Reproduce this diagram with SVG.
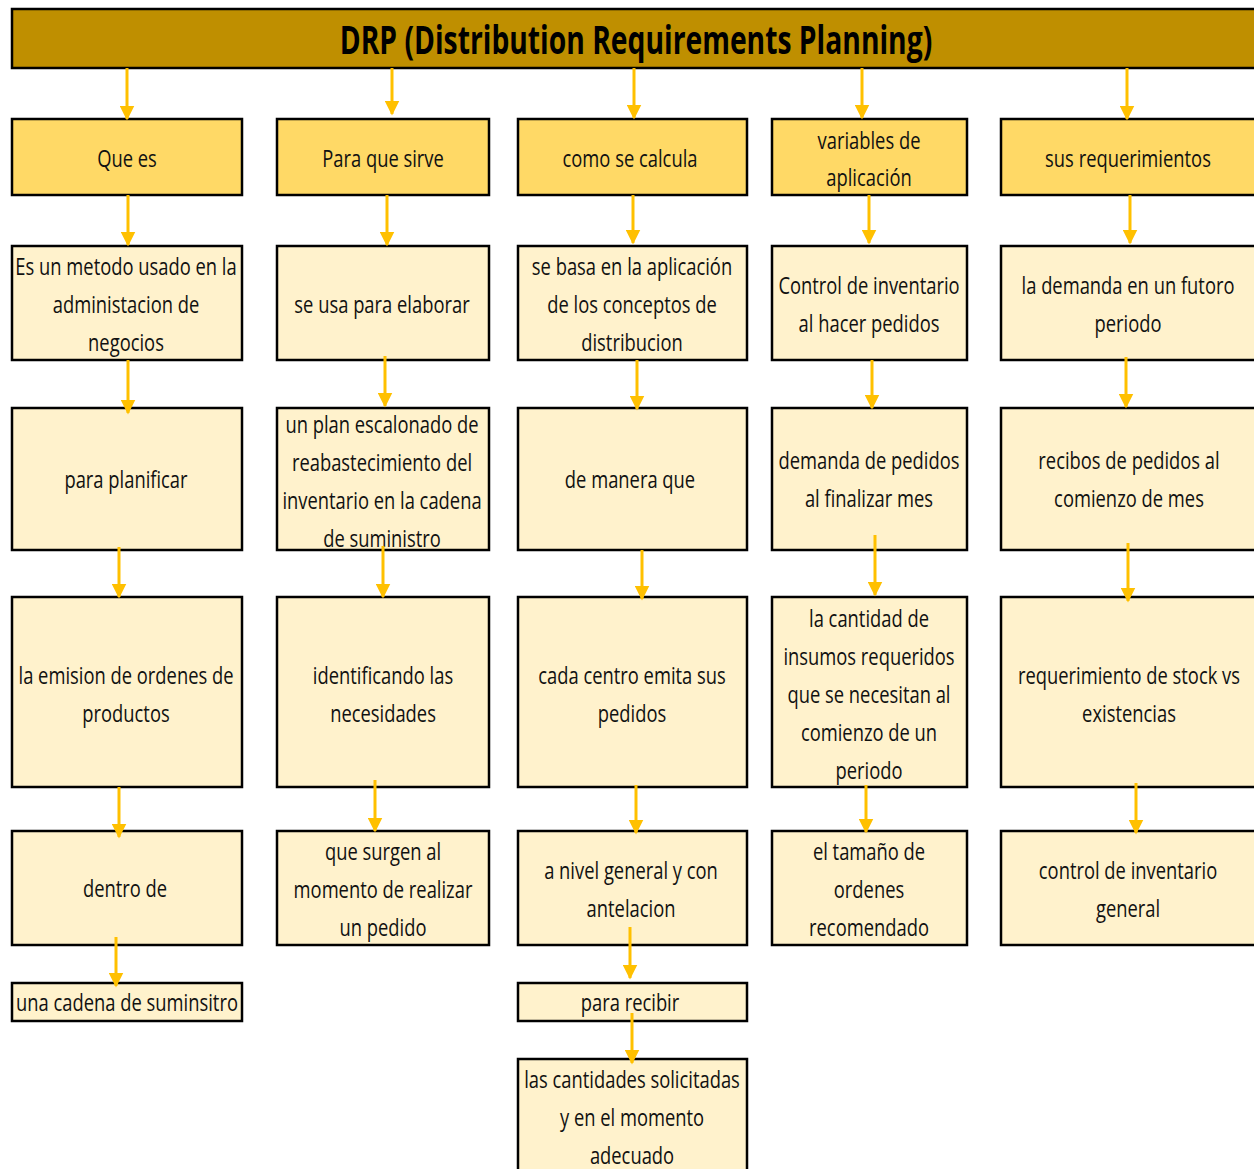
<svg xmlns="http://www.w3.org/2000/svg" width="1254" height="1169" viewBox="0 0 1254 1169">
  <defs>
    <style>
      .title { fill: #BF8F00; stroke: #000; stroke-width: 2.5; }
      .head { fill: #FFD966; stroke: #000; stroke-width: 2.5; }
      .box { fill: #FFF2CC; stroke: #000; stroke-width: 2.5; }
      .t { font-family: "Open Sans", "Liberation Sans", sans-serif; font-size: 24px; fill: #111; text-anchor: middle; }
      .tt { font-family: "Open Sans", "Liberation Sans", sans-serif; font-size: 40px; font-weight: bold; fill: #000; text-anchor: middle; }
      .arr { stroke: #FFC000; stroke-width: 3; fill: none; marker-end: url(#head); }
    </style>
    <marker id="head" viewBox="0 0 10 10" refX="9" refY="5" markerWidth="5" markerHeight="5" markerUnits="strokeWidth" orient="auto">
      <path d="M0,0 L10,5 L0,10 z" fill="#FFC000"/>
    </marker>
    <filter id="shadow" x="-2" y="-0.2" width="5" height="1.4">
      <feGaussianBlur stdDeviation="2"/>
    </filter>
  </defs>
  <rect width="1254" height="1169" fill="#fff"/>

  <!-- title bar -->
  <g id="title">
    <rect class="title" x="12" y="9" width="1250" height="59"/>
    <g transform="translate(636,0) scale(0.707,1)"><text class="tt" x="0" y="54">DRP (Distribution Requirements Planning)</text></g>
  </g>

  <!-- column 1 -->
  <g id="que-es">
    <rect class="head" x="12" y="119" width="230" height="76"/>
    <g transform="translate(127,0) scale(0.765,1)"><text class="t" x="0" y="167">Que es</text></g>
  </g>
  <g id="es-un-metodo">
    <rect class="box" x="12" y="246" width="230" height="114"/>
    <g transform="translate(126,0) scale(0.765,1)">
      <text class="t" x="0" y="275">Es un metodo usado en la</text>
      <text class="t" x="0" y="313">administacion de</text>
      <text class="t" x="0" y="351">negocios</text>
    </g>
  </g>
  <g id="para-planificar">
    <rect class="box" x="12" y="408" width="230" height="142"/>
    <g transform="translate(126,0) scale(0.765,1)"><text class="t" x="0" y="488">para planificar</text></g>
  </g>
  <g id="emision">
    <rect class="box" x="12" y="597" width="230" height="190"/>
    <g transform="translate(126,0) scale(0.765,1)">
      <text class="t" x="0" y="684">la emision de ordenes de</text>
      <text class="t" x="0" y="722">productos</text>
    </g>
  </g>
  <g id="dentro-de">
    <rect class="box" x="12" y="831" width="230" height="114"/>
    <g transform="translate(125,0) scale(0.765,1)"><text class="t" x="0" y="897">dentro de</text></g>
  </g>
  <g id="cadena">
    <rect class="box" x="12" y="983" width="230" height="38"/>
    <g transform="translate(127,0) scale(0.765,1)"><text class="t" x="0" y="1011">una cadena de suminsitro</text></g>
  </g>

  <!-- column 2 -->
  <g id="para-que-sirve">
    <rect class="head" x="277" y="119" width="212" height="76"/>
    <g transform="translate(383,0) scale(0.765,1)"><text class="t" x="0" y="167">Para que sirve</text></g>
  </g>
  <g id="se-usa">
    <rect class="box" x="277" y="246" width="212" height="114"/>
    <g transform="translate(382,0) scale(0.765,1)"><text class="t" x="0" y="313">se usa para elaborar</text></g>
  </g>
  <g id="plan-escalonado">
    <rect class="box" x="277" y="408" width="212" height="142"/>
    <g transform="translate(382,0) scale(0.765,1)">
      <text class="t" x="0" y="433">un plan escalonado de</text>
      <text class="t" x="0" y="471">reabastecimiento del</text>
      <text class="t" x="0" y="509">inventario en la cadena</text>
      <text class="t" x="0" y="547">de suministro</text>
    </g>
  </g>
  <g id="identificando">
    <rect class="box" x="277" y="597" width="212" height="190"/>
    <g transform="translate(383,0) scale(0.765,1)">
      <text class="t" x="0" y="684">identificando las</text>
      <text class="t" x="0" y="722">necesidades</text>
    </g>
  </g>
  <g id="que-surgen">
    <rect class="box" x="277" y="831" width="212" height="114"/>
    <g transform="translate(383,0) scale(0.765,1)">
      <text class="t" x="0" y="860">que surgen al</text>
      <text class="t" x="0" y="898">momento de realizar</text>
      <text class="t" x="0" y="936">un pedido</text>
    </g>
  </g>

  <!-- column 3 -->
  <g id="como-se-calcula">
    <rect class="head" x="518" y="119" width="229" height="76"/>
    <g transform="translate(630,0) scale(0.765,1)"><text class="t" x="0" y="167">como se calcula</text></g>
  </g>
  <g id="se-basa">
    <rect class="box" x="518" y="246" width="229" height="114"/>
    <g transform="translate(632,0) scale(0.765,1)">
      <text class="t" x="0" y="275">se basa en la aplicación</text>
      <text class="t" x="0" y="313">de los conceptos de</text>
      <text class="t" x="0" y="351">distribucion</text>
    </g>
  </g>
  <g id="de-manera-que">
    <rect class="box" x="518" y="408" width="229" height="142"/>
    <g transform="translate(630,0) scale(0.765,1)"><text class="t" x="0" y="488">de manera que</text></g>
  </g>
  <g id="cada-centro">
    <rect class="box" x="518" y="597" width="229" height="190"/>
    <g transform="translate(632,0) scale(0.765,1)">
      <text class="t" x="0" y="684">cada centro emita sus</text>
      <text class="t" x="0" y="722">pedidos</text>
    </g>
  </g>
  <g id="nivel-general">
    <rect class="box" x="518" y="831" width="229" height="114"/>
    <g transform="translate(631,0) scale(0.765,1)">
      <text class="t" x="0" y="879">a nivel general y con</text>
      <text class="t" x="0" y="917">antelacion</text>
    </g>
  </g>
  <g id="para-recibir">
    <rect class="box" x="518" y="983" width="229" height="38"/>
    <g transform="translate(630,0) scale(0.765,1)"><text class="t" x="0" y="1011">para recibir</text></g>
  </g>
  <g id="cantidades">
    <rect class="box" x="518" y="1059" width="229" height="120"/>
    <g transform="translate(632,0) scale(0.765,1)">
      <text class="t" x="0" y="1088">las cantidades solicitadas</text>
      <text class="t" x="0" y="1126">y en el momento</text>
      <text class="t" x="0" y="1164">adecuado</text>
    </g>
  </g>

  <!-- column 4 -->
  <g id="variables">
    <rect class="head" x="772" y="119" width="195" height="76"/>
    <g transform="translate(869,0) scale(0.765,1)">
      <text class="t" x="0" y="149">variables de</text>
      <text class="t" x="0" y="186">aplicación</text>
    </g>
  </g>
  <g id="control-inventario">
    <rect class="box" x="772" y="246" width="195" height="114"/>
    <g transform="translate(869,0) scale(0.765,1)">
      <text class="t" x="0" y="294">Control de inventario</text>
      <text class="t" x="0" y="332">al hacer pedidos</text>
    </g>
  </g>
  <g id="demanda-pedidos">
    <rect class="box" x="772" y="408" width="195" height="142"/>
    <g transform="translate(869,0) scale(0.765,1)">
      <text class="t" x="0" y="469">demanda de pedidos</text>
      <text class="t" x="0" y="507">al finalizar mes</text>
    </g>
  </g>
  <g id="cantidad-insumos">
    <rect class="box" x="772" y="597" width="195" height="190"/>
    <g transform="translate(869,0) scale(0.765,1)">
      <text class="t" x="0" y="627">la cantidad de</text>
      <text class="t" x="0" y="665">insumos requeridos</text>
      <text class="t" x="0" y="703">que se necesitan al</text>
      <text class="t" x="0" y="741">comienzo de un</text>
      <text class="t" x="0" y="779">periodo</text>
    </g>
  </g>
  <g id="tamano-ordenes">
    <rect class="box" x="772" y="831" width="195" height="114"/>
    <g transform="translate(869,0) scale(0.765,1)">
      <text class="t" x="0" y="860">el tamaño de</text>
      <text class="t" x="0" y="898">ordenes</text>
      <text class="t" x="0" y="936">recomendado</text>
    </g>
  </g>

  <!-- column 5 -->
  <g id="requerimientos">
    <rect class="head" x="1001" y="119" width="260" height="76"/>
    <g transform="translate(1128,0) scale(0.765,1)"><text class="t" x="0" y="167">sus requerimientos</text></g>
  </g>
  <g id="demanda-futuro">
    <rect class="box" x="1001" y="246" width="260" height="114"/>
    <g transform="translate(1128,0) scale(0.765,1)">
      <text class="t" x="0" y="294">la demanda en un futoro</text>
      <text class="t" x="0" y="332">periodo</text>
    </g>
  </g>
  <g id="recibos">
    <rect class="box" x="1001" y="408" width="260" height="142"/>
    <g transform="translate(1129,0) scale(0.765,1)">
      <text class="t" x="0" y="469">recibos de pedidos al</text>
      <text class="t" x="0" y="507">comienzo de mes</text>
    </g>
  </g>
  <g id="stock-vs">
    <rect class="box" x="1001" y="597" width="260" height="190"/>
    <g transform="translate(1129,0) scale(0.765,1)">
      <text class="t" x="0" y="684">requerimiento de stock vs</text>
      <text class="t" x="0" y="722">existencias</text>
    </g>
  </g>
  <g id="control-general">
    <rect class="box" x="1001" y="831" width="260" height="114"/>
    <g transform="translate(1128,0) scale(0.765,1)">
      <text class="t" x="0" y="879">control de inventario</text>
      <text class="t" x="0" y="917">general</text>
    </g>
  </g>

  <!-- connectors -->
  <g id="connectors">
    <line x1="131" y1="70" x2="131" y2="120" stroke="#888" stroke-width="4" opacity="0.5" filter="url(#shadow)"/>
    <line class="arr" x1="127" y1="68" x2="127" y2="119"/>
    <line class="arr" x1="392" y1="68" x2="392" y2="114"/>
    <line class="arr" x1="634" y1="68" x2="634" y2="118"/>
    <line class="arr" x1="862" y1="68" x2="862" y2="118"/>
    <line class="arr" x1="1127" y1="68" x2="1127" y2="119"/>

    <line class="arr" x1="128" y1="195" x2="128" y2="245"/>
    <line class="arr" x1="387" y1="195" x2="387" y2="245"/>
    <line class="arr" x1="633" y1="195" x2="633" y2="243"/>
    <line class="arr" x1="869" y1="195" x2="869" y2="243"/>
    <line class="arr" x1="1130" y1="195" x2="1130" y2="243"/>

    <line class="arr" x1="128" y1="360" x2="128" y2="413"/>
    <line class="arr" x1="385" y1="356" x2="385" y2="406"/>
    <line class="arr" x1="637" y1="360" x2="637" y2="409"/>
    <line class="arr" x1="872" y1="360" x2="872" y2="408"/>
    <line class="arr" x1="1126" y1="357" x2="1126" y2="407"/>

    <line class="arr" x1="119" y1="547" x2="119" y2="597"/>
    <line class="arr" x1="383" y1="546" x2="383" y2="597"/>
    <line class="arr" x1="642" y1="550" x2="642" y2="599"/>
    <line class="arr" x1="875" y1="535" x2="875" y2="595"/>
    <line class="arr" x1="1128" y1="543" x2="1128" y2="601"/>

    <line class="arr" x1="119" y1="787" x2="119" y2="837"/>
    <line class="arr" x1="375" y1="780" x2="375" y2="831"/>
    <line class="arr" x1="636" y1="785" x2="636" y2="833"/>
    <line class="arr" x1="866" y1="785" x2="866" y2="832"/>
    <line class="arr" x1="1136" y1="783" x2="1136" y2="833"/>

    <line class="arr" x1="116" y1="937" x2="116" y2="986"/>
    <line class="arr" x1="630" y1="927" x2="630" y2="978"/>
    <line class="arr" x1="632" y1="1013" x2="632" y2="1063"/>
  </g>
</svg>
